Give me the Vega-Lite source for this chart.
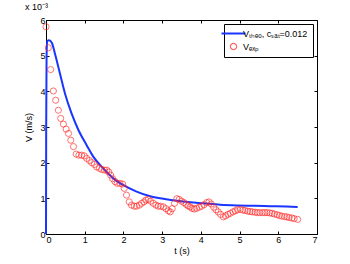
{
  "$schema": "https://vega.github.io/schema/vega-lite/v6.json",
  "autosize": "none",
  "padding": {"left": 46, "top": 20, "right": 33, "bottom": 30},
  "width": 271,
  "height": 214,
  "background": "white",
  "title": {"text": "x 10⁻³", "anchor": "start", "fontSize": 9, "fontWeight": "normal", "font": "Liberation Sans", "offset": 4, "color": "black"},
  "config": {
    "view": {"stroke": "black", "strokeWidth": 1},
    "axis": {"grid": false, "domainColor": "black", "tickColor": "black", "tickSize": -3, "labelFont": "Liberation Sans", "labelFontSize": 9, "labelColor": "black", "titleFont": "Liberation Sans", "titleFontSize": 9, "titleFontWeight": "normal", "titleColor": "black"},
    "legend": {"labelFont": "Liberation Sans", "labelFontSize": 9, "labelColor": "black", "symbolFillColor": "transparent"}
  },
  "datasets": {
    "theo": [
      {"t": 0, "v": 0}, {"t": 0.005, "v": 3.0}, {"t": 0.015, "v": 5.0}, {"t": 0.03, "v": 5.41}, {"t": 0.08, "v": 5.43},
      {"t": 0.15, "v": 5.36}, {"t": 0.23, "v": 5.06}, {"t": 0.36, "v": 4.5}, {"t": 0.49, "v": 3.94}, {"t": 0.66, "v": 3.38},
      {"t": 0.84, "v": 2.91}, {"t": 1.05, "v": 2.49}, {"t": 1.22, "v": 2.17}, {"t": 1.48, "v": 1.84}, {"t": 1.74, "v": 1.56},
      {"t": 2.0, "v": 1.37}, {"t": 2.34, "v": 1.19}, {"t": 2.69, "v": 1.06}, {"t": 3.03, "v": 0.99}, {"t": 3.38, "v": 0.93},
      {"t": 3.72, "v": 0.89}, {"t": 4.06, "v": 0.86}, {"t": 4.5, "v": 0.82}, {"t": 4.93, "v": 0.8}, {"t": 5.4, "v": 0.79},
      {"t": 5.79, "v": 0.78}, {"t": 6.2, "v": 0.77}, {"t": 6.5, "v": 0.76}
    ],
    "exp": [
      {"t": 0.0, "v": 5.81}, {"t": 0.06, "v": 5.22}, {"t": 0.12, "v": 4.61}, {"t": 0.19, "v": 4.01}, {"t": 0.25, "v": 3.75},
      {"t": 0.32, "v": 3.47}, {"t": 0.38, "v": 3.24}, {"t": 0.45, "v": 3.08}, {"t": 0.52, "v": 2.94}, {"t": 0.58, "v": 2.82},
      {"t": 0.64, "v": 2.63}, {"t": 0.71, "v": 2.45}, {"t": 0.78, "v": 2.24}, {"t": 0.85, "v": 2.21}, {"t": 0.92, "v": 2.21},
      {"t": 0.99, "v": 2.19}, {"t": 1.05, "v": 2.12}, {"t": 1.12, "v": 2.06}, {"t": 1.18, "v": 2.0}, {"t": 1.25, "v": 1.95},
      {"t": 1.31, "v": 1.88}, {"t": 1.38, "v": 1.84}, {"t": 1.44, "v": 1.81}, {"t": 1.51, "v": 1.79}, {"t": 1.57, "v": 1.79},
      {"t": 1.62, "v": 1.74}, {"t": 1.67, "v": 1.65}, {"t": 1.72, "v": 1.55}, {"t": 1.78, "v": 1.47}, {"t": 1.84, "v": 1.42},
      {"t": 1.91, "v": 1.42}, {"t": 1.98, "v": 1.4}, {"t": 2.02, "v": 1.28}, {"t": 2.08, "v": 1.09}, {"t": 2.15, "v": 0.9},
      {"t": 2.21, "v": 0.81}, {"t": 2.28, "v": 0.78}, {"t": 2.34, "v": 0.78}, {"t": 2.41, "v": 0.81}, {"t": 2.47, "v": 0.86},
      {"t": 2.53, "v": 0.9}, {"t": 2.58, "v": 0.95}, {"t": 2.64, "v": 0.97}, {"t": 2.7, "v": 0.92}, {"t": 2.77, "v": 0.86},
      {"t": 2.84, "v": 0.81}, {"t": 2.9, "v": 0.78}, {"t": 2.96, "v": 0.78}, {"t": 3.03, "v": 0.76}, {"t": 3.1, "v": 0.71},
      {"t": 3.16, "v": 0.65}, {"t": 3.21, "v": 0.62}, {"t": 3.26, "v": 0.71}, {"t": 3.32, "v": 0.86}, {"t": 3.38, "v": 0.99},
      {"t": 3.44, "v": 0.97}, {"t": 3.5, "v": 0.92}, {"t": 3.56, "v": 0.88}, {"t": 3.62, "v": 0.83}, {"t": 3.67, "v": 0.79},
      {"t": 3.72, "v": 0.76}, {"t": 3.77, "v": 0.72}, {"t": 3.83, "v": 0.7}, {"t": 3.89, "v": 0.72}, {"t": 3.96, "v": 0.75},
      {"t": 4.02, "v": 0.78}, {"t": 4.08, "v": 0.82}, {"t": 4.15, "v": 0.88}, {"t": 4.21, "v": 0.9}, {"t": 4.27, "v": 0.84},
      {"t": 4.33, "v": 0.75}, {"t": 4.39, "v": 0.68}, {"t": 4.45, "v": 0.62}, {"t": 4.51, "v": 0.55}, {"t": 4.58, "v": 0.48},
      {"t": 4.64, "v": 0.51}, {"t": 4.7, "v": 0.55}, {"t": 4.76, "v": 0.58}, {"t": 4.83, "v": 0.62}, {"t": 4.89, "v": 0.65},
      {"t": 4.95, "v": 0.68}, {"t": 5.02, "v": 0.69}, {"t": 5.08, "v": 0.67}, {"t": 5.14, "v": 0.66}, {"t": 5.21, "v": 0.64},
      {"t": 5.27, "v": 0.63}, {"t": 5.33, "v": 0.62}, {"t": 5.4, "v": 0.61}, {"t": 5.46, "v": 0.6}, {"t": 5.52, "v": 0.6},
      {"t": 5.59, "v": 0.6}, {"t": 5.65, "v": 0.6}, {"t": 5.71, "v": 0.6}, {"t": 5.78, "v": 0.59}, {"t": 5.84, "v": 0.58},
      {"t": 5.9, "v": 0.56}, {"t": 5.97, "v": 0.54}, {"t": 6.03, "v": 0.52}, {"t": 6.09, "v": 0.5}, {"t": 6.16, "v": 0.49},
      {"t": 6.22, "v": 0.48}, {"t": 6.28, "v": 0.46}, {"t": 6.35, "v": 0.45}, {"t": 6.41, "v": 0.43}, {"t": 6.5, "v": 0.41}
    ]
  },
  "layer": [
    {
      "data": {"name": "theo"},
      "transform": [{"calculate": "'Vₜₕₑₒ, cₛₐₜ=0.012'", "as": "series"}],
      "mark": {"type": "line", "strokeWidth": 2, "interpolate": "monotone"},
      "encoding": {
        "x": {"field": "t", "type": "quantitative", "scale": {"domain": [0, 7], "nice": false}, "axis": {"title": "t (s)", "values": [0,1,2,3,4,5,6,7], "labelPadding": 4, "titlePadding": 2}},
        "y": {"field": "v", "type": "quantitative", "scale": {"domain": [0, 6], "nice": false}, "axis": {"title": "V (m/s)", "values": [0,1,2,3,4,5,6], "labelPadding": 4, "titlePadding": 6}},
        "color": {"field": "series", "type": "nominal", "scale": {"domain": ["Vₜₕₑₒ, cₛₐₜ=0.012", "Vₑₓₚ"], "range": ["#1a35ff", "#ff2020"]},
          "legend": {"title": null, "orient": "top-right", "offset": 4, "strokeColor": "black", "fillColor": "white", "padding": 5, "symbolSize": 576, "rowPadding": 2, "labelOffset": 5, "symbolFillColor": "transparent",
            "encode": {"symbols": {"update": {
              "size": {"signal": "datum.index === 0 ? 576 : 40"},
              "strokeWidth": {"signal": "datum.index === 0 ? 2 : 0.9"},
              "fill": {"value": "transparent"},
              "fillOpacity": {"value": 0},
              "stroke": {"signal": "datum.index === 0 ? '#1a35ff' : '#ff2020'"}}}}}},
        "shape": {"field": "series", "type": "nominal", "scale": {"domain": ["Vₜₕₑₒ, cₛₐₜ=0.012", "Vₑₓₚ"], "range": ["stroke", "circle"]}, "legend": null}
      }
    },
    {
      "data": {"name": "exp"},
      "transform": [{"calculate": "'Vₑₓₚ'", "as": "series"}],
      "mark": {"type": "point", "filled": false, "size": 38, "strokeWidth": 0.9},
      "encoding": {
        "x": {"field": "t", "type": "quantitative", "axis": {"orient": "top", "labels": false, "title": null, "values": [0,1,2,3,4,5,6,7], "domain": false}},
        "y": {"field": "v", "type": "quantitative", "axis": {"orient": "right", "labels": false, "title": null, "values": [0,1,2,3,4,5,6], "domain": false}},
        "color": {"field": "series", "type": "nominal"},
        "shape": {"field": "series", "type": "nominal"}
      }
    }
  ],
  "resolve": {"axis": {"x": "independent", "y": "independent"}}
}
